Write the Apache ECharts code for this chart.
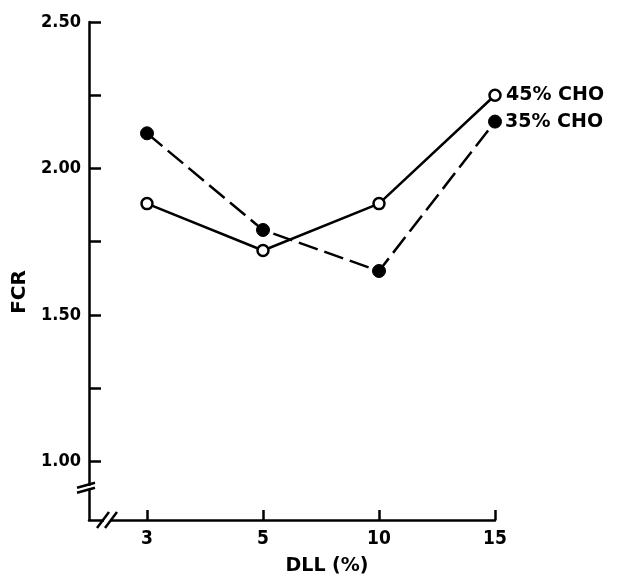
<!DOCTYPE html>
<html><head><meta charset="utf-8">
<script src="https://cdn.jsdelivr.net/npm/echarts@6/dist/echarts.min.js"></script>
<style>html,body{margin:0;padding:0;background:#fff}#c{width:624px;height:587px}</style>
</head><body><div id="c"></div>
<script>
const categories = ['3', '5', '10', '15'];
const cho45 = [1.88, 1.72, 1.88, 2.25];
const cho35 = [2.12, 1.79, 1.65, 2.16];
const seriesNames = ['45% CHO', '35% CHO'];
const yTicks = [1.00, 1.25, 1.50, 1.75, 2.00, 2.25, 2.50];
const yLabels = [1.00, 1.50, 2.00, 2.50];
const xTicks = [0, 1, 2, 3];

const INK = '#000';
const narrow = "'DejaVu Sans Condensed', 'Liberation Sans Narrow', sans-serif";
const sans = "'DejaVu Sans', sans-serif";

const chart = echarts.init(document.getElementById('c'), null, {renderer: 'canvas'});
chart.setOption({
  animation: false,
  backgroundColor: '#fff',
  grid: {left: 89, right: 129, top: 22, bottom: 67, containLabel: false},
  xAxis: {
    type: 'value', min: -0.5, max: 3,
    name: 'DLL (%)', nameLocation: 'middle', nameGap: 37,
    nameTextStyle: {fontSize: 19, fontWeight: 'bold', fontFamily: sans, color: INK, padding: [0, 0, 0, 70]},
    axisLine: {show: true, onZero: false, lineStyle: {color: INK, width: 2.5}},
    axisTick: {show: true, inside: true, length: 10, lineStyle: {color: INK, width: 2.5}, customValues: xTicks},
    axisLabel: {customValues: xTicks, formatter: v => categories[Math.round(v)], fontSize: 19, fontWeight: 'bold', fontFamily: narrow, color: INK, margin: 10},
    splitLine: {show: false}
  },
  yAxis: {
    type: 'value', min: 0.8, max: 2.5,
    name: 'FCR', nameLocation: 'middle', nameGap: 52,
    nameTextStyle: {fontSize: 20, fontWeight: 'bold', fontFamily: sans, color: INK, padding: [0, 42, 0, 0]},
    axisLine: {show: true, onZero: false, lineStyle: {color: INK, width: 2.5}},
    axisTick: {show: true, inside: true, length: 12, lineStyle: {color: INK, width: 2.5}, customValues: yTicks},
    axisLabel: {customValues: yLabels, formatter: v => Number(v).toFixed(2), fontSize: 18, fontWeight: 'bold', fontFamily: narrow, color: INK, margin: 8},
    splitLine: {show: false}
  },
  series: [
    {
      name: seriesNames[0], type: 'line',
      data: cho45.map((v, i) => [i, v]),
      symbol: 'circle', symbolSize: 11,
      lineStyle: {color: INK, width: 2.5},
      itemStyle: {color: '#fff', borderColor: INK, borderWidth: 2.5},
      endLabel: {show: true, formatter: '{a}', fontSize: 19, fontWeight: 'bold', fontFamily: sans, color: INK, distance: 11},
      z: 3
    },
    {
      name: seriesNames[1], type: 'line',
      data: cho35.map((v, i) => [i, v]),
      symbol: 'circle', symbolSize: 13,
      lineStyle: {color: INK, width: 2.5, type: [20, 7]},
      itemStyle: {color: INK, borderColor: INK, borderWidth: 1},
      endLabel: {show: true, formatter: '{a}', fontSize: 19, fontWeight: 'bold', fontFamily: sans, color: INK, distance: 10},
      z: 2
    }
  ]
});

// axis break marks (decoration)
const yb = chart.convertToPixel({gridIndex: 0}, [-0.5, 0.91]);
const xb = chart.convertToPixel({gridIndex: 0}, [-0.345, 0.8]);
const ls = {stroke: INK, lineWidth: 2.5};
chart.setOption({
  graphic: [
    {type: 'rect', shape: {x: yb[0] - 3, y: yb[1] - 2, width: 6, height: 4}, style: {fill: '#fff'}, z: 100},
    {type: 'line', shape: {x1: yb[0] - 12, y1: yb[1] + 0, x2: yb[0] + 6, y2: yb[1] - 5}, style: ls, z: 101},
    {type: 'line', shape: {x1: yb[0] - 12, y1: yb[1] + 5, x2: yb[0] + 6, y2: yb[1] + 0}, style: ls, z: 101},
    {type: 'rect', shape: {x: xb[0] - 3, y: xb[1] - 3, width: 6, height: 6}, style: {fill: '#fff'}, z: 100},
    {type: 'line', shape: {x1: xb[0] - 10, y1: xb[1] + 8, x2: xb[0] + 2, y2: xb[1] - 8}, style: ls, z: 101},
    {type: 'line', shape: {x1: xb[0] - 2, y1: xb[1] + 8, x2: xb[0] + 10, y2: xb[1] - 8}, style: ls, z: 101}
  ]
});
</script>
</body></html>
